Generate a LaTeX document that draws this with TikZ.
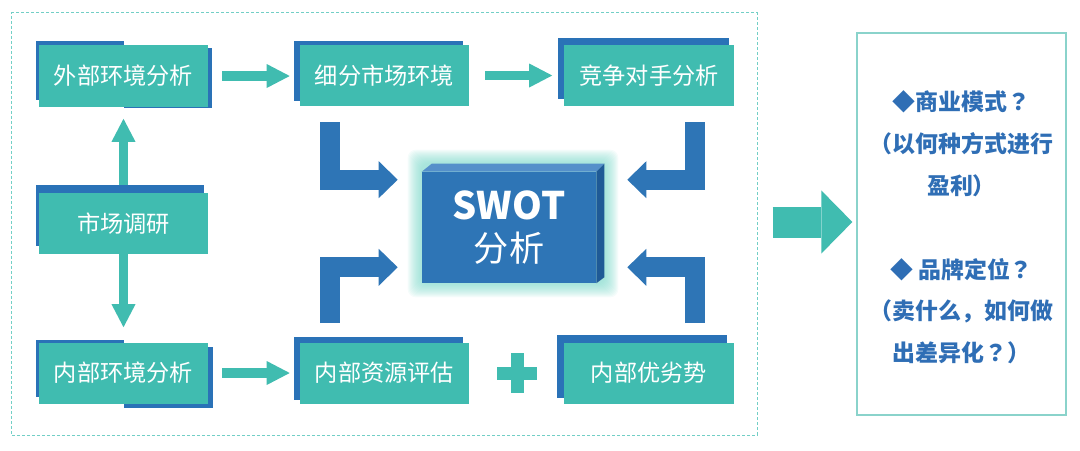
\documentclass[tikz,border=0pt]{standalone}
\usepackage{fontspec}
\setmainfont{Noto Sans CJK SC}
\newfontfamily\jpf{Noto Sans CJK JP}
\usetikzlibrary{arrows.meta,backgrounds,calc}
\definecolor{tealc}{RGB}{64,188,176}
\definecolor{bluec}{RGB}{42,114,183}
\definecolor{larrow}{RGB}{46,117,182}
\definecolor{swotfront}{RGB}{46,117,182}
\definecolor{swottop}{RGB}{85,144,202}
\definecolor{swotside}{RGB}{31,90,150}
\definecolor{glowc}{RGB}{120,215,200}
\definecolor{txtblue}{RGB}{47,110,181}
\definecolor{dashc}{RGB}{114,207,198}
\definecolor{qborder}{RGB}{138,211,203}
\begin{document}
\begin{tikzpicture}[x=0.025cm,y=-0.025cm,
  tbox/.style={fill=tealc, text=white, minimum width=4.225cm, minimum height=1.525cm,
    inner sep=0pt, font=\fontsize{16.5}{19}\selectfont},
  tarrow/.style={draw=tealc, line width=0.24cm,
    -{Triangle[length=0.575cm 0 0, width=0.6cm 0 0, line width=0pt]}},
  barrow/.style={draw=larrow, line width=0.5cm, line join=miter,
    -{Triangle[length=0.475cm 0 0, width=0.925cm 0 0, line width=0pt]}},
  bigarrow/.style={draw=tealc, line width=0.775cm,
    -{Triangle[length=0.775cm 0 0, width=1.575cm 0 0, line width=0pt]}},
  shadowbox/.style={fill=bluec},
]
\useasboundingbox (0,0) rectangle (1080,450);

% frames
\node[draw=dashc, line width=0.025cm, dash pattern=on 0.075cm off 0.05cm,
  minimum width=18.625cm, minimum height=10.55cm, inner sep=0pt] (d) at (384.5,224) {};
\node[draw=qborder, line width=0.03cm, minimum width=5.225cm, minimum height=9.55cm,
  inner sep=0pt] (q) at (961.5,224) {};
\node[text=txtblue, align=center, font=\bfseries\fontsize{16.3}{29.7}\selectfont] (t) at (961.5,227.5)
  {◆商业模式{\jpf ？}\\（以何种方式进行\\盈利）\\[29.7pt]◆ 品牌定位{\jpf ？}\\（卖什么，如何做\\出差异化{\jpf ？}）};

% boxes
\node[tbox] (a) at (123.5,76) {外部环境分析};
\node[tbox] (s) at (384.5,75.5) {细分市场环境};
\node[tbox] (c) at (649,75.5) {竞争对手分析};
\node[tbox] (m) at (123.5,223.5) {市场调研};
\node[tbox] (n) at (123.5,373) {内部环境分析};
\node[tbox] (r) at (384.5,373) {内部资源评估};
\node[tbox] (p) at (649,373) {内部优劣势};

% SWOT box
\node[fill=swotfront, minimum width=4.35cm, minimum height=2.775cm, inner sep=0pt,
  text=white, align=center, font=\fontsize{25}{30}\selectfont] (w) at (509,227.5)
  {{\bfseries\fontsize{27}{30}\selectfont SWOT}\\分析};
\fill[swottop] (w.north west) -- ++(10,-8) -- ($(w.north east)+(8,-8)$) -- (w.north east) -- cycle;
\fill[swotside] (w.north east) -- ++(8,-8) -- ($(w.south east)+(8,-6)$) -- (w.south east) -- cycle;

% plus sign
\fill[tealc] (497,366.5) rectangle (537,379.5);
\fill[tealc] (510.5,353) rectangle (523.5,393);

\begin{scope}[on background layer]
  % glow
  \foreach \i in {1,...,14}
    \fill[glowc, opacity=0.07, rounded corners=0.2cm]
      ($(w.north west)+(-\i,-8-\i)$) rectangle ($(w.south east)+(8+\i,\i)$);
  % teal connectors
  \draw[tarrow, shorten <=0.35cm, shorten >=0.25cm] (a.east) -- (a.east -| s.west);
  \draw[tarrow, shorten <=0.4cm, shorten >=0.3cm] (s.east) -- (s.east -| c.west);
  \draw[tarrow, shorten <=0.35cm, shorten >=0.25cm] (n.east) -- (r.west);
  \draw[tarrow, shorten >=0.3cm] (m.north) -- (a.south);
  \draw[tarrow, shorten >=0.375cm] (m.south) -- (n.north);
  \draw[bigarrow, shorten <=0.375cm, shorten >=0.1cm] ($(d.east)+(0,-2)$) -- ($(q.west)+(0,-2)$);
  % blue L connectors
  \draw[barrow] ($(s.south west)+(30,16)$) |- ($(w.north west)+(-24,8)$);
  \draw[barrow] ($(c.south east)+(-39,16)$) |- ($(w.north east)+(31,8)$);
  \draw[barrow] ($(r.north west)+(30,-19)$) |- ($(w.south west)+(-24,-16)$);
  \draw[barrow] ($(p.north east)+(-39,-19)$) |- ($(w.south east)+(31,-16)$);
  % shadows
  \fill[shadowbox] ($(a.north west)+(-3,-4)$) rectangle ($(a.south)+(0,-7)$);
  \fill[shadowbox] ($(a.north)+(0,3)$) rectangle ($(a.south east)+(4,1)$);
  \fill[shadowbox] ($(n.north west)+(-3,-2)$) rectangle ($(n.south)+(0,-7)$);
  \fill[shadowbox] ($(n.north)+(0,5)$) rectangle ($(n.south east)+(5,4)$);
  \fill[shadowbox] ($(s.north west)+(-6,-4)$) rectangle ($(s.south east)+(-6,-5)$);
  \fill[shadowbox] ($(c.north west)+(-6,-7)$) rectangle ($(c.south east)+(-5,-7)$);
  \fill[shadowbox] ($(m.north west)+(-3,-8)$) rectangle ($(m.south east)+(-4,-8)$);
  \fill[shadowbox] ($(r.north west)+(-6,-5)$) rectangle ($(r.south east)+(-6,-4)$);
  \fill[shadowbox] ($(p.north west)+(-7,-7)$) rectangle ($(p.south east)+(-7,-6)$);
\end{scope}
\end{tikzpicture}
\end{document}
